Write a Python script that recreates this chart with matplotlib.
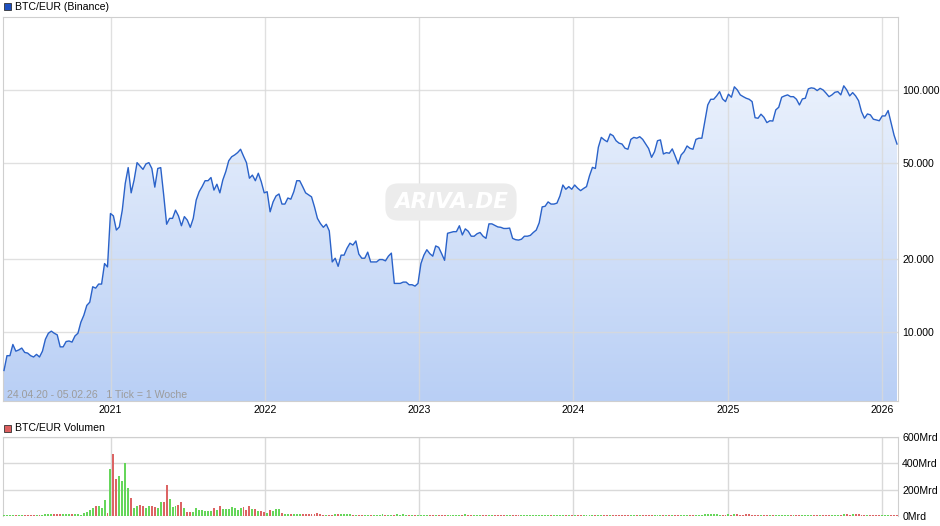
import matplotlib.pyplot as plt
import matplotlib.dates as mdates
from matplotlib.patches import Rectangle
from matplotlib.colors import LinearSegmentedColormap
from matplotlib.ticker import FuncFormatter, NullLocator
import numpy as np
import pandas as pd

plt.rcParams['font.family'] = ['Liberation Sans', 'DejaVu Sans']

# weekly BTC/EUR close (EUR), 24.04.20 - 05.02.26
prices = [6950, 8000, 8000, 8900, 8350, 8450, 8600, 8250, 8200, 8000, 7900, 8100, 7900, 8350, 9350, 9900, 10100, 9900, 9750, 8700,
          8700, 9150, 9200, 9100, 9650, 9900, 11000, 11750, 12900, 13300, 15400, 15200, 15800, 15800, 19200, 18600, 30900, 30200, 26400, 27200,
          31900, 41100, 47800, 37600, 42500, 50100, 48500, 47000, 49500, 50100, 47400, 39700, 47400, 47800, 36900, 27900, 29500, 29500, 31900, 30200,
          27500, 30000, 29000, 27100, 29500, 35100, 38000, 39900, 42200, 42200, 43500, 38600, 40800, 37600, 42500, 46000, 51000, 53000, 53900, 55100,
          56900, 53300, 50100, 43200, 44500, 42200, 45300, 41800, 37600, 38000, 31400, 34500, 36500, 37200, 33800, 33800, 35800, 35400, 38000, 42200,
          42200, 39900, 37600, 36900, 36200, 32900, 29500, 28100, 27100, 27900, 26200, 19500, 20200, 18700, 20800, 20800, 22200, 23300, 22900, 23800,
          21000, 20200, 20200, 21400, 19500, 19500, 19500, 19950, 19950, 19700, 20600, 21200, 15900, 15900, 15900, 16100, 16100, 15700, 15700, 15500,
          15900, 19200, 20800, 21900, 21100, 20600, 22700, 22400, 21100, 19800, 25600, 25800, 26000, 26000, 27500, 25200, 26700, 26100, 24900, 24900,
          25500, 25800, 24900, 24400, 28000, 28000, 27600, 27200, 27100, 26800, 26800, 26900, 24400, 24100, 24000, 24200, 24900, 24900, 25100, 25800,
          26400, 28300, 32900, 33100, 34500, 33800, 33800, 34100, 36500, 40500, 38900, 39900, 38900, 40500, 39300, 38400, 39200, 39900, 44200, 47900,
          47400, 58000, 63700, 62200, 61100, 65800, 64700, 61700, 60300, 59800, 57500, 56900, 62500, 63700, 63200, 64100, 62500, 59800, 57300, 52700,
          55600, 61700, 62200, 54400, 55100, 54800, 57100, 53300, 49500, 53900, 55600, 58700, 57400, 56900, 62500, 63200, 63200, 74000, 86700, 91500,
          91500, 94500, 98400, 91800, 89500, 96000, 93300, 103000, 100000, 95400, 93800, 92400, 91500, 89500, 76800, 76400, 79400, 77100, 73300, 74600,
          74400, 82700, 84800, 93300, 94500, 95400, 93800, 93800, 91500, 86700, 91800, 92400, 101000, 102000, 101500, 99400, 101500, 100000, 97000, 93800,
          95400, 97800, 98400, 95400, 104000, 100000, 94500, 97500, 94500, 90300, 81300, 76400, 79600, 78900, 75700, 75200, 74600, 78100, 78100, 82200,
          73300, 65100, 59800]

# weekly volume (Mrd EUR)
volumes = [7, 6, 7, 6, 7, 7, 6, 7, 7, 6, 7, 7, 7, 8, 13, 13, 13, 13, 13, 13,
           13, 13, 13, 13, 13, 13, 8, 23, 33, 43, 61, 78, 78, 63, 124, 25, 359, 473, 283, 306,
           268, 402, 215, 139, 63, 78, 86, 78, 63, 73, 78, 71, 61, 109, 109, 238, 132, 71, 78, 86,
           109, 63, 33, 33, 33, 63, 48, 48, 40, 40, 40, 63, 48, 78, 56, 56, 56, 71, 63, 48,
           63, 71, 48, 78, 56, 56, 40, 40, 33, 25, 48, 40, 56, 56, 25, 18, 18, 18, 18, 13,
           13, 13, 13, 13, 18, 18, 25, 13, 7, 7, 7, 7, 13, 13, 13, 13, 13, 13, 7, 7,
           7, 7, 7, 7, 7, 7, 7, 7, 12, 7, 7, 7, 7, 12, 7, 12, 7, 7, 7, 7,
           7, 7, 7, 7, 7, 7, 7, 7, 7, 7, 7, 7, 7, 7, 7, 7, 12, 7, 7, 7,
           7, 7, 7, 7, 7, 7, 7, 7, 7, 7, 7, 7, 7, 7, 7, 7, 7, 7, 7, 7,
           7, 7, 7, 7, 7, 7, 7, 7, 7, 7, 7, 7, 7, 7, 7, 7, 7, 7, 7, 7,
           7, 7, 7, 7, 7, 7, 7, 7, 7, 7, 7, 7, 7, 7, 7, 7, 7, 7, 7, 7,
           7, 7, 7, 7, 7, 7, 7, 7, 7, 7, 7, 7, 7, 7, 7, 7, 7, 12, 12, 12,
           12, 12, 7, 7, 7, 12, 7, 12, 12, 7, 7, 12, 12, 7, 7, 7, 7, 7, 10, 7,
           7, 7, 7, 7, 7, 10, 7, 7, 7, 7, 7, 7, 7, 10, 7, 10, 7, 7, 7, 7,
           7, 7, 7, 7, 12, 12, 7, 12, 12, 12, 7, 7, 7, 7, 7, 7, 7, 7, 7, 7,
           10, 7, 7]

years = [2021, 2022, 2023, 2024, 2025, 2026]
price_ticks = [10000, 20000, 50000, 100000]
vol_ticks = [0, 200, 400, 600]

assert len(prices) == len(volumes)

start = pd.Timestamp('2020-04-24')
end = pd.Timestamp('2026-02-05')
dates = pd.date_range(start, end, periods=len(prices))
xnum = mdates.date2num(dates)
pad = 2.37
x0, x1 = mdates.date2num(start) - pad, mdates.date2num(end) + pad

W, H = 940, 526
fig = plt.figure(figsize=(W / 100, H / 100), dpi=100)
fs = 7.6


def box(l, t, r, b):
    return [l / W, 1 - b / H, (r - l) / W, (b - t) / H]


grid_c = '#d9d9d9'
spine_c = '#cfcfcf'
year_pos = [mdates.date2num(pd.Timestamp(f'{y}-01-01')) for y in years]

# price panel
ax = fig.add_axes(box(3, 17, 898, 401))
ax.set_yscale('log')
ax.set_xlim(x0, x1)
ax.set_ylim(5200, 200000)
ax.set_autoscale_on(False)

cmap = LinearSegmentedColormap.from_list('fill', ['#b9cff5', '#f4f8fe'])
grad = np.linspace(0, 1, 256).reshape(-1, 1)
img = ax.imshow(grad, extent=[0, 1, 0, 1], transform=ax.transAxes, origin='lower',
                aspect='auto', cmap=cmap, zorder=1, interpolation='bilinear')
area = ax.fill_between(xnum, prices, 1000, facecolor='none', edgecolor='none')
img.set_clip_path(area.get_paths()[0], transform=ax.transData)
ax.set_xlim(x0, x1)
ax.set_ylim(5200, 200000)

ax.plot(xnum, prices, color='#2a62c9', lw=1.0, zorder=3)

ax.yaxis.tick_right()
ax.set_yticks(price_ticks)
ax.yaxis.set_minor_locator(NullLocator())
ax.yaxis.set_major_formatter(FuncFormatter(lambda v, p: f'{int(v):,}'.replace(',', '.')))
ax.set_xticks(year_pos)
ax.set_xticklabels([str(y) for y in years])
ax.tick_params(axis='both', length=0, labelsize=fs, colors='black')
ax.tick_params(axis='y', pad=3)
ax.tick_params(axis='x', pad=3)
ax.grid(True, color=grid_c, lw=1, alpha=0.8, zorder=2)
for s in ax.spines.values():
    s.set_color(spine_c)

# volume panel
axv = fig.add_axes(box(3, 437, 898, 516))
ups = [True] + [prices[i] >= prices[i - 1] for i in range(1, len(prices))]
colors = ['#66d65a' if u else '#dc6464' for u in ups]
axv.bar(xnum, volumes, width=4.6, color=colors, zorder=3)
axv.set_xlim(x0, x1)
axv.set_ylim(0, 600)
axv.yaxis.tick_right()
axv.set_yticks(vol_ticks)
axv.set_yticklabels([f'{v}Mrd' for v in vol_ticks])
axv.set_xticks(year_pos)
axv.set_xticklabels([])
axv.tick_params(axis='both', length=0, labelsize=fs, colors='black')
axv.tick_params(axis='y', pad=3)
axv.grid(True, color=grid_c, lw=1, zorder=0)
axv.set_axisbelow(True)
for s in axv.spines.values():
    s.set_color(spine_c)
axv.spines['bottom'].set_visible(False)

# headers
fig.add_artist(Rectangle((4 / W, 1 - 10 / H), 7 / W, 7 / H, facecolor='#1d4fbf',
                         edgecolor='#333333', lw=0.6, transform=fig.transFigure))
fig.text(15 / W, 1 - 6.5 / H, 'BTC/EUR (Binance)', fontsize=fs, va='center')
fig.add_artist(Rectangle((4 / W, 1 - 432 / H), 7 / W, 7 / H, facecolor='#dc5f5f',
                         edgecolor='#333333', lw=0.6, transform=fig.transFigure))
fig.text(15 / W, 1 - 428 / H, 'BTC/EUR Volumen', fontsize=fs, va='center')

fig.text(7 / W, 1 - 395 / H, '24.04.20 - 05.02.26   1 Tick = 1 Woche',
         fontsize=fs, color='#9c9c9c', va='center')

fig.text(451 / W, 1 - 202 / H, 'ARIVA.DE', fontsize=15.5, fontweight='bold', style='italic',
         family=['DejaVu Sans'], color='white', ha='center', va='center',
         bbox=dict(boxstyle='round,pad=0.4,rounding_size=0.6', fc='#ececec', ec='none'))

fig.savefig('out.png', dpi=100)
